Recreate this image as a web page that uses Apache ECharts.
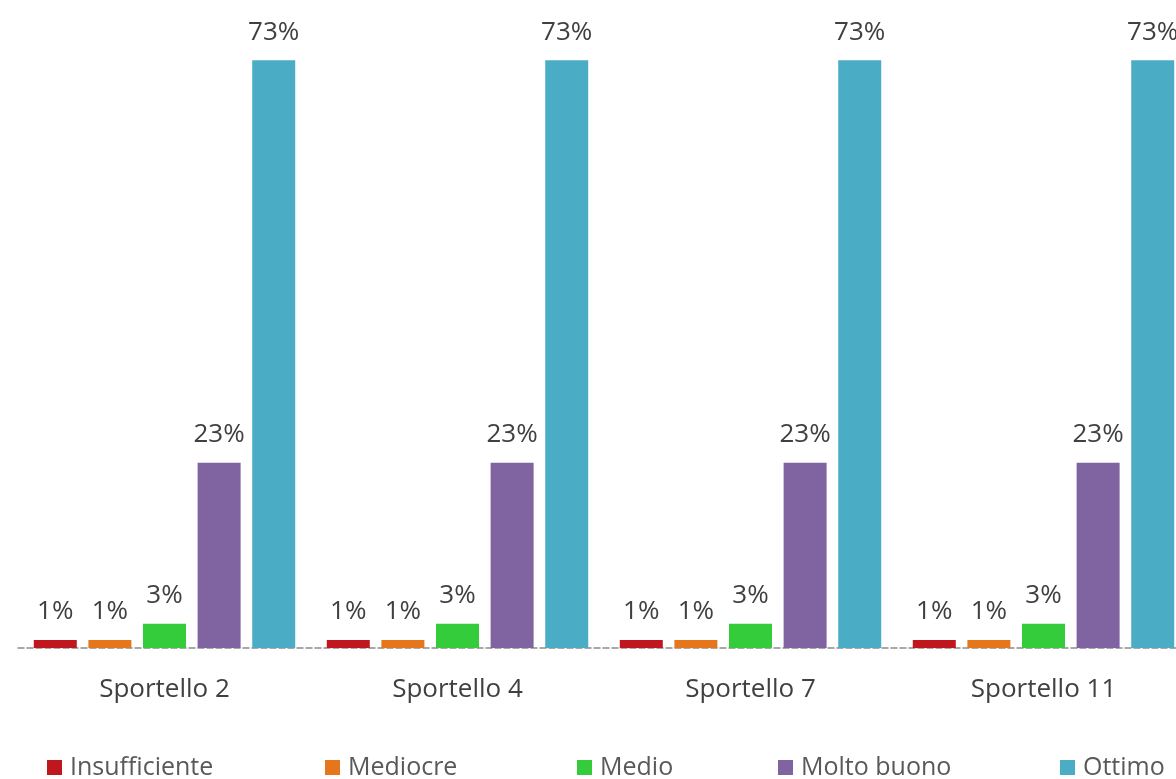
<!DOCTYPE html>
<html>
<head>
<meta charset="utf-8">
<script src="https://cdn.jsdelivr.net/npm/echarts@6/dist/echarts.min.js"></script>
<style>
  html, body { margin: 0; padding: 0; background: #fff; overflow: hidden; }
  /* the plot runs slightly past the right edge of the page */
  #chart { width: 1190px; height: 779px; }
</style>
</head>
<body>
<div id="chart"></div>
<script>
// Customer satisfaction per counter (percent of answers)
const categories = ['Sportello 2', 'Sportello 4', 'Sportello 7', 'Sportello 11'];
const insufficiente = [1, 1, 1, 1];
const mediocre = [1, 1, 1, 1];
const medio = [3, 3, 3, 3];
const moltoBuono = [23, 23, 23, 23];
const ottimo = [73, 73, 73, 73];

const seriesDefs = [
  { name: 'Insufficiente', data: insufficiente, color: '#C0161E', legendLeft: 47 },
  { name: 'Mediocre', data: mediocre, color: '#E5761C', legendLeft: 325 },
  { name: 'Medio', data: medio, color: '#35CC3B', legendLeft: 577 },
  { name: 'Molto buono', data: moltoBuono, color: '#8064A2', legendLeft: 778 },
  { name: 'Ottimo', data: ottimo, color: '#4BACC6', legendLeft: 1060 }
];

const font = '"Open Sans", "Noto Sans", sans-serif';

const chart = echarts.init(document.getElementById('chart'), null, { renderer: 'canvas' });

chart.setOption({
  animation: false,
  backgroundColor: '#ffffff',
  textStyle: { fontFamily: font },
  grid: { left: 18, top: 4, right: 0, height: 644, containLabel: false },
  xAxis: {
    type: 'category',
    data: categories,
    axisTick: { show: false },
    axisLine: { show: true, lineStyle: { color: '#8c8c8c', type: [6, 3], width: 1.5 } },
    axisLabel: { color: '#404040', fontSize: 26, margin: 29, fontFamily: font }
  },
  yAxis: {
    type: 'value',
    min: 0,
    max: 80,
    show: false,
    splitLine: { show: false }
  },
  legend: seriesDefs.map(s => ({
    data: [s.name],
    left: s.legendLeft,
    top: 755,
    padding: 0,
    itemWidth: 15,
    itemHeight: 15,
    icon: 'rect',
    itemGap: 0,
    textStyle: { color: '#595959', fontSize: 25, fontFamily: font, padding: [0, 0, 0, 3] }
  })),
  series: seriesDefs.map(s => ({
    name: s.name,
    type: 'bar',
    data: s.data,
    barWidth: 43,
    barGap: '27%',
    itemStyle: { color: s.color },
    label: {
      show: true,
      position: 'top',
      distance: 15,
      formatter: '{c}%',
      color: '#404040',
      fontSize: 26,
      fontFamily: font
    }
  }))
});
</script>
</body>
</html>
